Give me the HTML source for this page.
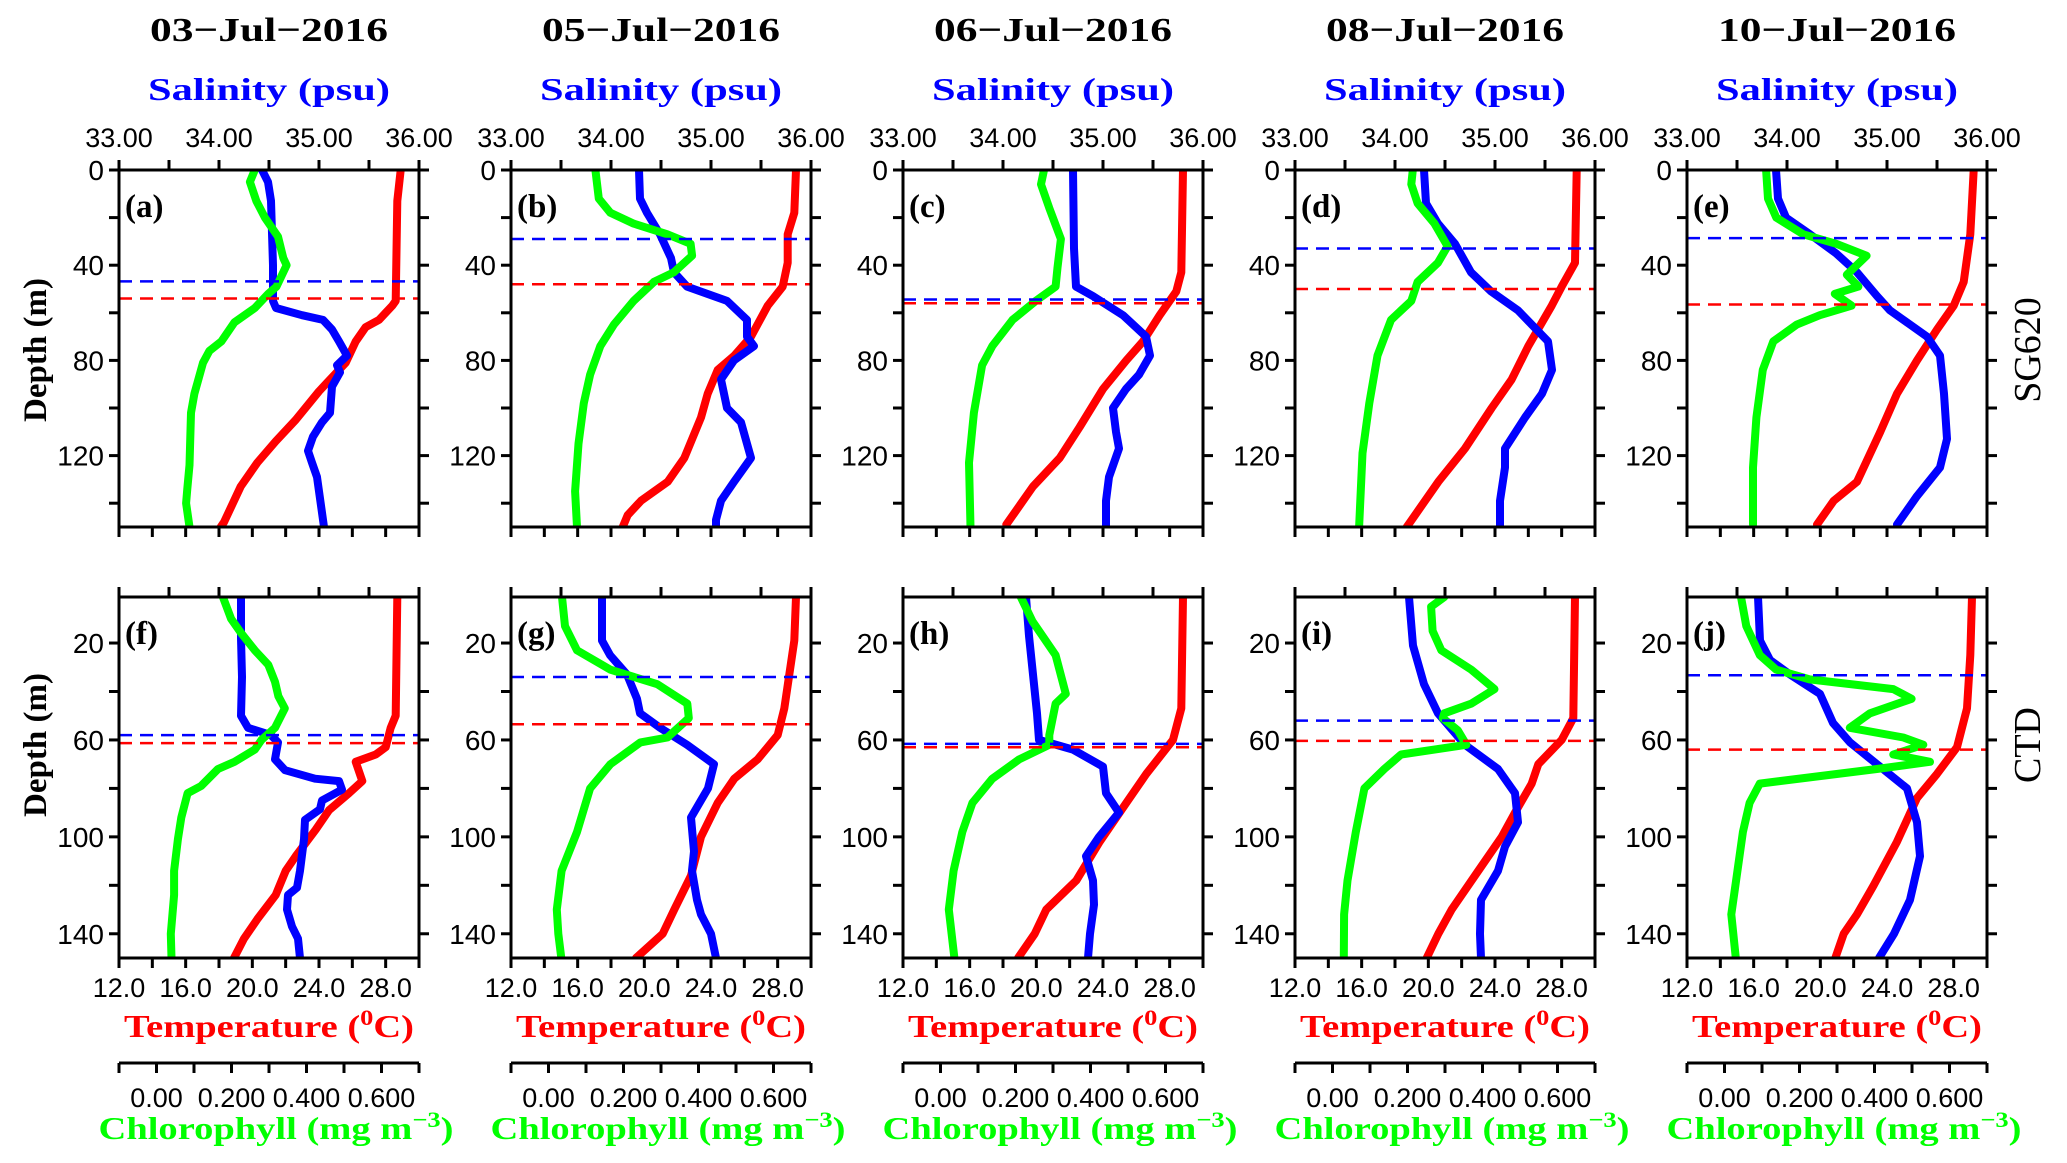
<!DOCTYPE html>
<html><head><meta charset="utf-8"><style>
html,body{margin:0;padding:0;background:#fff;}
svg{display:block;}
</style></head><body>
<svg id="chart" xmlns="http://www.w3.org/2000/svg" width="2067" height="1163" viewBox="0 0 2067 1163"></svg>
<script>
// ---- data: [depth(m), value] pairs ----
const dates = ["03\u2212Jul\u22122016","05\u2212Jul\u22122016","06\u2212Jul\u22122016","08\u2212Jul\u22122016","10\u2212Jul\u22122016"];
const letters = ["a","b","c","d","e","f","g","h","i","j"];
const salTicks = ["33.00","34.00","35.00","36.00"];
const tempTicks = ["12.0","16.0","20.0","24.0","28.0"];
const chlTicks = ["0.00","0.200","0.400","0.600"];

const salA=[[0,34.43],[5,34.49],[13,34.52],[40,34.54],[55,34.54],[58,34.57],[61,34.83],[63,35.04],[67,35.13],[72,35.2],[78,35.28],[82,35.18],[85,35.21],[91,35.13],[102,35.11],[106,35.03],[112,34.94],[118,34.89],[123,34.93],[129,34.98],[138,35.01],[150,35.05]];
const tempA=[[0,28.9],[13,28.7],[55,28.6],[57,28.4],[63,27.6],[66,26.8],[72,26.2],[81,25.6],[87,24.8],[93,24.0],[105,22.6],[114,21.4],[123,20.3],[133,19.3],[148,18.3],[150,18.1]];
const chlA=[[0,0.262],[5,0.249],[13,0.266],[20,0.289],[28,0.324],[37,0.338],[40,0.347],[49,0.32],[52,0.298],[58,0.262],[64,0.208],[72,0.173],[76,0.141],[81,0.124],[94,0.101],[102,0.092],[124,0.088],[134,0.082],[140,0.079],[150,0.088]];

const salB=[[0,34.28],[12,34.29],[18,34.36],[27,34.49],[37,34.6],[43,34.63],[49,34.76],[55,35.16],[63,35.36],[70,35.36],[74,35.43],[80,35.23],[88,35.1],[100,35.16],[106,35.3],[121,35.4],[131,35.23],[139,35.1],[147,35.05],[150,35.05]];
const tempB=[[0,29.1],[18,29.0],[27,28.6],[39,28.6],[49,28.3],[57,27.4],[70,26.4],[78,25.4],[84,24.4],[94,23.8],[104,23.4],[121,22.4],[131,21.4],[139,19.8],[145,19.0],[150,18.7]];
const chlB=[[0,0.125],[12,0.134],[18,0.165],[22.5,0.227],[27,0.317],[31,0.379],[36,0.383],[43,0.334],[47,0.281],[55,0.227],[65,0.174],[74,0.138],[86,0.111],[98,0.094],[115,0.08],[135,0.071],[150,0.076]];

const salC=[[0,34.7],[33,34.71],[49,34.73],[53,34.9],[61,35.2],[70,35.43],[78,35.47],[86,35.36],[92,35.23],[100,35.1],[110,35.13],[117,35.16],[129,35.06],[139,35.03],[150,35.03]];
const tempC=[[0,28.8],[43,28.7],[51,28.4],[61,27.4],[72,26.4],[80,25.4],[92,24.0],[108,22.6],[121,21.4],[133,19.8],[149,18.2]];
const chlC=[[0,0.276],[6,0.268],[16,0.29],[29,0.321],[41,0.312],[49,0.307],[55,0.254],[63,0.192],[74,0.138],[82,0.111],[102,0.089],[123,0.076],[150,0.08]];

const salD=[[0,34.29],[14,34.31],[22.5,34.43],[31,34.6],[43,34.76],[51,34.96],[59,35.23],[72,35.53],[84,35.57],[94,35.47],[104,35.3],[117,35.1],[125,35.1],[139,35.05],[150,35.05]];
const tempD=[[0,28.9],[39,28.8],[49,28.0],[57,27.4],[74,26.0],[88,25.0],[100,23.8],[117,22.2],[131,20.6],[147,19.0],[150,18.7]];
const chlD=[[0,0.214],[6,0.21],[14,0.227],[22.5,0.272],[32,0.307],[39,0.281],[47,0.227],[55,0.21],[63,0.156],[78,0.12],[98,0.098],[119,0.08],[150,0.071]];

const salE=[[0,33.89],[12,33.91],[20,33.99],[27,34.23],[35,34.49],[43,34.7],[53,34.9],[59,35.03],[70,35.4],[78,35.53],[94,35.57],[113,35.6],[125,35.53],[137,35.3],[149,35.1]];
const tempE=[[0,29.2],[27,29.0],[47,28.6],[57,28.0],[67,27.0],[80,25.8],[94,24.6],[110,23.6],[131,22.2],[139,20.8],[149,19.8]];
const chlE=[[0,0.111],[12,0.116],[20,0.138],[27,0.21],[31,0.298],[36,0.379],[44,0.326],[49,0.357],[52,0.294],[57,0.339],[61,0.254],[65,0.192],[72,0.13],[84,0.102],[104,0.085],[125,0.076],[149,0.076]];

const salF=[[1,34.22],[18,34.22],[34,34.23],[50,34.22],[55,34.29],[58,34.52],[61,34.59],[68,34.56],[72.5,34.66],[76,34.96],[77,35.2],[80.5,35.23],[85,35.03],[88.6,35.01],[93,34.86],[101,34.85],[114,34.81],[121,34.78],[124,34.69],[130,34.68],[137,34.73],[142,34.79],[150,34.81]];
const tempF=[[1,28.7],[50,28.6],[55,28.3],[63,28.0],[66,27.4],[69,26.2],[77,26.6],[82,25.8],[89,24.6],[97,23.8],[108,22.6],[114,22.0],[124,21.4],[134,20.3],[142,19.5],[150,18.9]];
const chlF=[[1,0.177],[10,0.199],[16,0.226],[23,0.262],[29,0.298],[36,0.316],[42,0.325],[47,0.342],[55,0.316],[60,0.28],[64,0.262],[69,0.208],[72,0.164],[79,0.119],[82,0.083],[92,0.066],[101,0.057],[114,0.047],[124,0.047],[140,0.038],[150,0.04]];

const salG=[[1,33.91],[19,33.91],[25,33.99],[33,34.16],[43,34.26],[49,34.29],[55,34.49],[62,34.76],[70,35.03],[80,34.97],[92,34.8],[106,34.83],[114,34.81],[126,34.86],[132,34.9],[140,35.0],[150,35.05]];
const tempG=[[1,29.1],[19,29.0],[33,28.7],[47,28.4],[58,28.0],[68,26.8],[76,25.4],[86,24.4],[100,23.4],[116,22.8],[130,21.8],[140,21.1],[150,19.5]];
const chlG=[[1,0.036],[13,0.044],[23,0.076],[31,0.165],[37,0.29],[45,0.37],[51,0.374],[59,0.317],[61,0.245],[70,0.165],[80,0.111],[98,0.076],[114,0.035],[130,0.022],[140,0.026],[150,0.034]];

const salH=[[1,34.23],[17,34.26],[37,34.31],[49,34.34],[60,34.36],[64,34.7],[71,35.0],[82,35.03],[90,35.16],[100,34.96],[108,34.83],[118,34.9],[128,34.91],[140,34.87],[150,34.85]];
const tempH=[[1,28.8],[47,28.7],[60,28.2],[74,26.6],[86,25.4],[102,23.8],[118,22.4],[130,20.6],[140,19.9],[150,18.9]];
const chlH=[[1,0.214],[11,0.245],[25,0.307],[41,0.334],[45,0.307],[58,0.29],[62,0.29],[68,0.21],[76,0.138],[86,0.085],[98,0.058],[114,0.035],[130,0.022],[150,0.037]];

const salI=[[1,34.14],[21,34.18],[37,34.29],[49,34.43],[62,34.7],[72,35.03],[82,35.2],[94,35.23],[104,35.1],[114,35.03],[126,34.86],[140,34.85],[150,34.86]];
const tempI=[[1,28.8],[51,28.7],[60,28.0],[70,26.6],[78,26.2],[90,25.2],[100,24.4],[114,23.0],[130,21.4],[140,20.6],[150,19.9]];
const chlI=[[1,0.298],[5,0.263],[15,0.267],[23,0.29],[31,0.37],[39,0.432],[45,0.37],[49,0.298],[51,0.294],[56,0.334],[62,0.357],[66,0.183],[72,0.138],[80,0.085],[98,0.062],[118,0.04],[132,0.031],[150,0.03]];

const salJ=[[1,33.71],[19,33.73],[27,33.83],[33,34.03],[41,34.33],[53,34.46],[61,34.63],[70,34.9],[80,35.2],[94,35.3],[108,35.33],[126,35.23],[140,35.07],[150,34.92]];
const tempJ=[[1,29.1],[25,29.0],[47,28.8],[63,28.2],[74,27.0],[84,25.8],[102,24.6],[120,23.2],[132,22.2],[140,21.4],[150,20.9]];
const chlJ=[[1,0.044],[13,0.058],[25,0.094],[31,0.138],[35,0.227],[39,0.45],[43,0.499],[49,0.388],[55,0.334],[59,0.477],[62,0.53],[66,0.45],[69,0.548],[72,0.406],[78,0.094],[86,0.067],[98,0.049],[118,0.031],[132,0.018],[150,0.03]];

const salMLD = [46.8,29,54.4,33,28.6,58,34,61.6,52,33.3];
const tempMLD = [54,48,56,50,56.5,61.3,53.5,63,60.4,64];

const salSeries=[salA,salB,salC,salD,salE,salF,salG,salH,salI,salJ];
const tempSeries=[tempA,tempB,tempC,tempD,tempE,tempF,tempG,tempH,tempI,tempJ];
const chlSeries=[chlA,chlB,chlC,chlD,chlE,chlF,chlG,chlH,chlI,chlJ];

// ---- layout ----
const NS="http://www.w3.org/2000/svg";
const svg=document.getElementById('chart');
const colX=[119,511,903,1295,1687], W=300;
const rows=[{y0:170,y1:527,d0:0,d1:150},{y0:597,y1:958,d0:1,d1:150}];
const SAL=[33,36], TEMP=[12,30], CHL=[-0.1,0.7];
function mk(tag,attrs,parent){const e=document.createElementNS(NS,tag);for(const k in attrs)e.setAttribute(k,attrs[k]);(parent||svg).appendChild(e);return e;}
function sx(x0,v,r){return x0+(v-r[0])/(r[1]-r[0])*W;}
function dy(row,d){return row.y0+(d-row.d0)/(row.d1-row.d0)*(row.y1-row.y0);}
const serif='"Liberation Serif", serif', sans='"Liberation Sans", sans-serif';

for(let r=0;r<2;r++){
  const row=rows[r];
  for(let c=0;c<5;c++){
    const i=r*5+c, x0=colX[c];
    const g=mk('g',{});
    
    
    const cp=mk('clipPath',{id:'cp'+i},g);
    mk('rect',{x:x0,y:row.y0,width:W,height:row.y1-row.y0},cp);
    const defs=[[tempSeries[i],TEMP,'#ff0000','temperature-profile'],[salSeries[i],SAL,'#0000ff','salinity-profile'],[chlSeries[i],CHL,'#00ff00','chlorophyll-profile']];
    for(const [data,rng,col,nm] of defs){
      const pts=data.map(p=>sx(x0,p[1],rng).toFixed(1)+','+dy(row,p[0]).toFixed(1)).join(' ');
      const pl=mk('polyline',{points:pts,fill:'none',stroke:col,'stroke-width':8,'stroke-linejoin':'round','stroke-linecap':'round','clip-path':'url(#cp'+i+')'},g);
      
      
    }
    const lb=mk('line',{x1:x0,x2:x0+W,y1:dy(row,salMLD[i]),y2:dy(row,salMLD[i]),stroke:'#0000ff','stroke-width':2.5,'stroke-dasharray':'13 8'},g);
    
    
    const lr=mk('line',{x1:x0,x2:x0+W,y1:dy(row,tempMLD[i]),y2:dy(row,tempMLD[i]),stroke:'#ff0000','stroke-width':2.5,'stroke-dasharray':'13 8'},g);
    
    
    const fr=mk('rect',{x:x0,y:row.y0,width:W,height:row.y1-row.y0,fill:'none',stroke:'#000','stroke-width':3},g);
    
    
    for(let s=33;s<=36.001;s+=0.5){const x=sx(x0,s,SAL);mk('line',{x1:x,x2:x,y1:row.y0,y2:row.y0-10,stroke:'#000','stroke-width':3},g);}
    for(let t=12;t<=30.001;t+=2){const x=sx(x0,t,TEMP);mk('line',{x1:x,x2:x,y1:row.y1,y2:row.y1+10,stroke:'#000','stroke-width':3},g);}
    const ds = r===0 ? [0,20,40,60,80,100,120,140] : [20,40,60,80,100,120,140];
    const dl = r===0 ? [0,40,80,120] : [20,60,100,140];
    for(const d of ds){const y=dy(row,d);
      mk('line',{x1:x0,x2:x0-10,y1:y,y2:y,stroke:'#000','stroke-width':3},g);
      mk('line',{x1:x0+W,x2:x0+W+10,y1:y,y2:y,stroke:'#000','stroke-width':3},g);}
    for(const d of dl){const t=mk('text',{x:x0-15,y:dy(row,d)+10,'text-anchor':'end','font-family':sans,'font-size':28,fill:'#000'},g);t.textContent=d;
      }
    const pl=mk('text',{x:x0+6,y:row.y0+47,'font-family':serif,'font-size':33,'font-weight':'bold',fill:'#000'},g);
    pl.textContent='('+letters[i]+')';
    
    if(r===0){
      salTicks.forEach(s=>{const t=mk('text',{x:sx(x0,parseFloat(s),SAL),y:147,'text-anchor':'middle','font-family':sans,'font-size':27,fill:'#000'},g);t.textContent=s;
        });
      const st=mk('text',{x:x0+150,y:100,'text-anchor':'middle','font-family':serif,'font-size':32,'font-weight':'bold',fill:'#0000ff',textLength:242,lengthAdjust:'spacingAndGlyphs'},g);
      st.textContent='Salinity (psu)';
      
      const dt=mk('text',{x:x0+150,y:41,'text-anchor':'middle','font-family':serif,'font-size':34,'font-weight':'bold',fill:'#000',textLength:238,lengthAdjust:'spacingAndGlyphs'},g);
      dt.textContent=dates[c];
      
    } else {
      tempTicks.forEach(s=>{const t=mk('text',{x:sx(x0,parseFloat(s),TEMP),y:997,'text-anchor':'middle','font-family':sans,'font-size':27,fill:'#000'},g);t.textContent=s;
        });
      const tt=mk('text',{x:x0+150,y:1037,'text-anchor':'middle','font-family':serif,'font-size':32,'font-weight':'bold',fill:'#ff0000',textLength:290,lengthAdjust:'spacingAndGlyphs'},g);
      tt.innerHTML='Temperature (<tspan dy="-12" font-size="22">0</tspan><tspan dy="12">C)</tspan>';
      
      const ca=mk('line',{x1:x0,x2:x0+W,y1:1063,y2:1063,stroke:'#000','stroke-width':3},g);
      
      for(let k=0;k<=8;k++){const v=-0.1+k*0.1;const x=sx(x0,v,CHL);mk('line',{x1:x,x2:x,y1:1063,y2:1073,stroke:'#000','stroke-width':3},g);}
      chlTicks.forEach(s=>{const t=mk('text',{x:sx(x0,parseFloat(s),CHL),y:1107,'text-anchor':'middle','font-family':sans,'font-size':27,fill:'#000'},g);t.textContent=s;
        });
      const ct=mk('text',{x:x0+157,y:1139,'text-anchor':'middle','font-family':serif,'font-size':32,'font-weight':'bold',fill:'#00ff00',textLength:355,lengthAdjust:'spacingAndGlyphs'},g);
      ct.innerHTML='Chlorophyll (mg m<tspan dy="-12" font-size="22">\u22123</tspan><tspan dy="12">)</tspan>';
      
    }
  }
}
function rotText(txt,x,y,ang,name,size,weight){const t=mk('text',{x:x,y:y,'text-anchor':'middle','font-family':serif,'font-size':size,'font-weight':weight,fill:'#000',transform:'rotate('+ang+' '+x+' '+y+')'});t.textContent=txt;
  return t;}
rotText('Depth (m)',46,350,-90,'depth-axis-title-top',33,'bold');
rotText('Depth (m)',46,745,-90,'depth-axis-title-bottom',33,'bold');
rotText('SG620',2040,350,-90,'row-label-sg620',38,'normal');
rotText('CTD',2040,745,-90,'row-label-ctd',38,'normal');
</script>
</body></html>
